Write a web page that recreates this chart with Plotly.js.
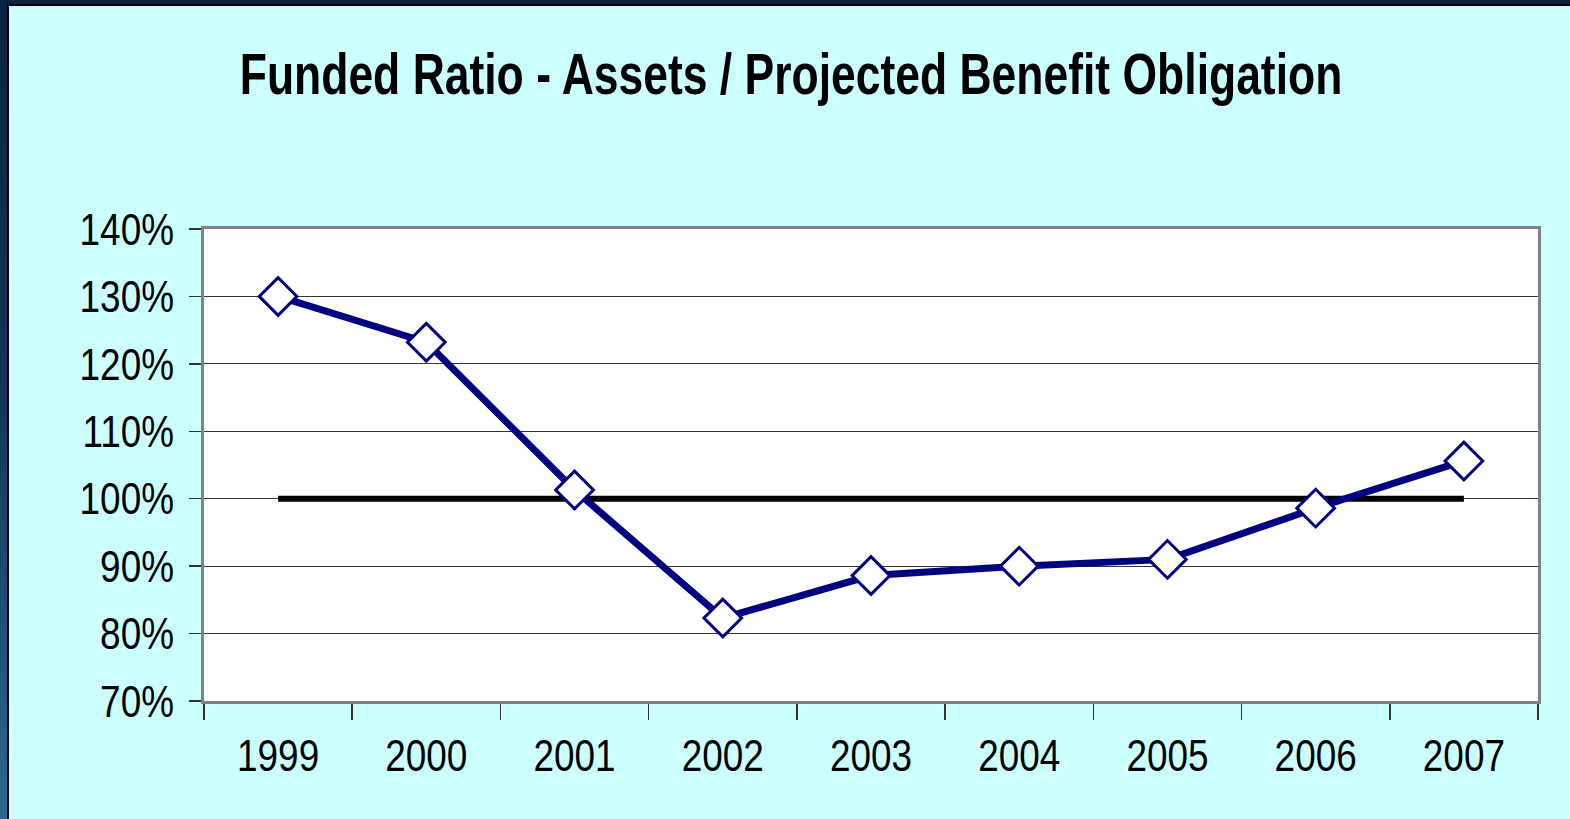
<!DOCTYPE html>
<html>
<head>
<meta charset="utf-8">
<script src="https://cdn.plot.ly/plotly-3.0.1.min.js"></script>
<style>
  html, body { margin: 0; padding: 0; width: 1570px; height: 819px; overflow: hidden; }
  #frame { position: absolute; left: 0; top: 0; width: 1570px; height: 819px;
    background: linear-gradient(180deg, #0a2242 0%, #14375e 50%, #2a6892 100%); }
  #chart { position: absolute; left: 7px; top: 4px; width: 1561px; height: 813px;
    border-left: 2px solid #000; border-top: 2px solid #000; background: #ccffff; }
</style>
</head>
<body>
<div id="frame"></div>
<div id="chart"></div>
<script>
const years = ["1999", "2000", "2001", "2002", "2003", "2004", "2005", "2006", "2007"];
const fundedRatio = [1.30, 1.232, 1.013, 0.823, 0.886, 0.900, 0.910, 0.986, 1.056];
const fullFunding = [1, 1, 1, 1, 1, 1, 1, 1, 1];
const yTicks = [0.7, 0.8, 0.9, 1.0, 1.1, 1.2, 1.3, 1.4];
const titleText = "Funded Ratio - Assets / Projected Benefit Obligation";

const font = "'Liberation Sans', Arial, sans-serif";

const traces = [
  {
    x: years, y: fullFunding, type: "scatter", mode: "lines",
    line: { color: "#000000", width: 6 }, hoverinfo: "skip", showlegend: false
  },
  {
    x: years, y: fundedRatio, type: "scatter", mode: "lines+markers",
    line: { color: "#000080", width: 7 },
    marker: { symbol: "diamond", size: 29, color: "#ffffff", line: { color: "#000080", width: 3 } },
    showlegend: false
  }
];

const layout = {
  width: 1561, height: 813,
  paper_bgcolor: "#ccffff", plot_bgcolor: "#ffffff",
  margin: { l: 195, r: 32, t: 223, b: 118 },
  title: {
    text: "<b>" + titleText + "</b>",
    font: { family: font, size: 57, color: "#000000" },
    x: 0.501, xref: "container", xanchor: "center",
    y: 1 - 68 / 813, yref: "container", yanchor: "middle"
  },
  xaxis: {
    type: "category", tickson: "boundaries", range: [-0.5, 8.5],
    ticks: "outside", ticklen: 16, tickwidth: 1.5, tickcolor: "#333333",
    showline: true, linecolor: "#808080", linewidth: 3, mirror: true,
    showgrid: false, zeroline: false,
    tickfont: { family: font, size: 45, color: "#000000" },
    ticklabelstandoff: 13
  },
  yaxis: {
    range: [0.7, 1.4], tickvals: yTicks, tickformat: ".0%",
    ticks: "outside", ticklen: 12, tickwidth: 1.5, tickcolor: "#333333",
    showline: true, linecolor: "#808080", linewidth: 3, mirror: true,
    showgrid: true, gridcolor: "#333333", gridwidth: 1, zeroline: false,
    tickfont: { family: font, size: 45, color: "#000000" },
    ticklabelstandoff: 6
  },
  font: { family: font }
};

function narrowText(el, factor) {
  const len = el.getComputedTextLength();
  if (len > 0) {
    el.setAttribute("textLength", (len * factor).toFixed(1));
    el.setAttribute("lengthAdjust", "spacingAndGlyphs");
  }
}

Plotly.newPlot("chart", traces, layout, { displayModeBar: false, staticPlot: true }).then(function (gd) {
  gd.querySelectorAll(".gtitle").forEach(function (t) { narrowText(t, 0.78); });
  gd.querySelectorAll(".xtick text, .ytick text").forEach(function (t) { narrowText(t, 0.82); });
});
</script>
</body>
</html>
